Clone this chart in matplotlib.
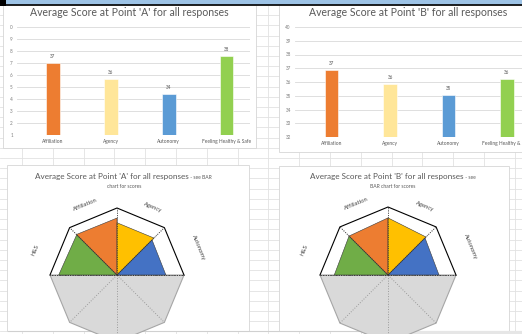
import numpy as np
import matplotlib
matplotlib.use("Agg")
import matplotlib.pyplot as plt
from matplotlib.patches import Rectangle, Polygon

plt.rcParams['font.family'] = ['Lato', 'DejaVu Sans']

# ---- data ----
categories = ['Affiliation', 'Agency', 'Autonomy', 'Feeling Healthy & Safe']
bar_colors = ['#ED7D31', '#FFE699', '#5B9BD5', '#92D050']

heights_a = [7.0, 5.65, 4.4, 7.6]
labels_a = ['37', '36', '34', '38']
yticks_a = [1, 2, 3, 4, 5, 6, 7, 8, 9, 10]
ytick_labels_a = ['1', '2', '3', '4', '5', '6', '7', '8', '9', '0']

heights_b = [36.88, 35.86, 35.07, 36.24]
labels_b = ['37', '36', '35', '36']
yticks_b = [32, 33, 34, 35, 36, 37, 38, 39, 40]

# radar: each segment spans two spokes (start angle, end angle) with a value at each
radar_names = ['H&S', 'Affiliation', 'Agency', 'Autonomy']
radar_colors = ['#70AD47', '#ED7D31', '#FFC000', '#4472C4']
radar_spokes = [(180, 135), (135, 90), (90, 45), (45, 0)]
radar_a = [(0.87, 0.85), (0.855, 0.85), (0.78, 0.78), (0.74, 0.73)]
radar_b = [(0.79, 0.81), (0.81, 0.84), (0.84, 0.79), (0.77, 0.75)]

W, H = 522, 334
fig = plt.figure(figsize=(W / 100, H / 100), dpi=100)


def px(x0, y0, x1, y1):
    return [x0 / W, 1 - y1 / H, (x1 - x0) / W, (y1 - y0) / H]


bg = fig.add_axes([0, 0, 1, 1])
bg.set_xlim(0, W)
bg.set_ylim(H, 0)
bg.axis('off')

# spreadsheet grid
for x in np.arange(22, W, 30.8):
    bg.plot([x, x], [5, H], color='#E2E2E2', lw=0.6, zorder=0)
for y in np.arange(5, H, 10.2):
    bg.plot([0, W], [y, y], color='#E2E2E2', lw=0.6, zorder=0)

# chart boxes
for (x0, y0, x1, y1) in [(3, 5, 256, 148), (279, 5, 525, 152),
                         (7, 165, 249, 331), (279, 166, 509, 331)]:
    bg.add_patch(Rectangle((x0, y0), x1 - x0, y1 - y0, facecolor='white',
                           edgecolor='#D6D6D6', lw=0.6, zorder=1))

# window frame
bg.add_patch(Rectangle((0, 0), W, 4.5, facecolor='#9DC3E6', edgecolor='none', zorder=5))
bg.plot([0, W], [4.8, 4.8], color='black', lw=1.2, zorder=6)
bg.add_patch(Rectangle((0, 0), 6, 6, facecolor='black', zorder=6))

grey_text = '#595959'


def bar_chart(rect, xlim, ylim, yticks, yticklabels, heights, labels, title, title_xy):
    ax = fig.add_axes(px(*rect))
    x = np.arange(len(categories))
    ax.bar(x, heights, width=0.23, color=bar_colors, edgecolor='white', lw=0.4, zorder=3)
    ax.set_xlim(*xlim)
    ax.set_ylim(*ylim)
    ax.set_yticks(yticks)
    ax.set_yticklabels(yticklabels, fontsize=3.3, color='#7F7F7F')
    ax.set_xticks(x)
    ax.set_xticklabels(categories, fontsize=3.5, color=grey_text)
    ax.tick_params(length=0, axis='y', pad=3)
    ax.tick_params(length=0, axis='x', pad=3)
    ax.grid(axis='y', color='#D9D9D9', lw=0.6)
    ax.set_axisbelow(True)
    for s in ax.spines.values():
        s.set_visible(False)
    ax.patch.set_alpha(0)
    for xi, h, lab in zip(x, heights, labels):
        ax.annotate(lab, (xi, h), xytext=(0, 3), textcoords='offset points',
                    ha='center', va='bottom', fontsize=3.3, color=grey_text)
    bg.text(title_xy[0], title_xy[1], title, ha='center', va='center',
            fontsize=7.6, color=grey_text, zorder=4)


bar_chart((17, 27, 250, 135), (-0.62, 3.40), (1, 10), yticks_a, ytick_labels_a,
          heights_a, labels_a, "Average Score at Point 'A' for all responses", (129, 13))
bar_chart((295, 27, 522, 137), (-0.63, 3.26), (32, 40), yticks_b,
          [str(t) for t in yticks_b], heights_b, labels_b,
          "Average Score at Point 'B' for all responses", (408, 13))


def radar(cx, cy, R, values, title1, title_small, title2, t_xy):
    x0, x1 = cx - 90, cx + 90
    y0, y1 = 185, H
    ax = fig.add_axes(px(x0, y0, x1, y1))
    ax.set_xlim((x0 - cx) / R, (x1 - cx) / R)
    ax.set_ylim(-(y1 - cy) / R, (cy - y0) / R)
    ax.axis('off')
    ang = np.deg2rad(np.arange(0, 360, 45))
    vx, vy = np.cos(ang), np.sin(ang)
    # lower half grey
    low = [(0, 0)] + [(vx[i], vy[i]) for i in [4, 5, 6, 7]] + [(1, 0)]
    ax.add_patch(Polygon(low, closed=True, facecolor='#D9D9D9', edgecolor='#A6A6A6', lw=0.8))
    # upper half outline
    up = [(vx[i], vy[i]) for i in [0, 1, 2, 3, 4]]
    ax.plot([p[0] for p in up], [p[1] for p in up], color='black', lw=0.8)
    # spokes
    for i in range(8):
        c = '#404040' if i in (0, 4) else '#9A9A9A'
        ax.plot([0, vx[i]], [0, vy[i]], color=c, lw=0.7, ls=':', zorder=1)
    # coloured segments
    for (a0, a1), (r0, r1), col in zip(radar_spokes, values, radar_colors):
        t0, t1 = np.deg2rad(a0), np.deg2rad(a1)
        pts = [(0, 0), (r0 * np.cos(t0), r0 * np.sin(t0)), (r1 * np.cos(t1), r1 * np.sin(t1))]
        ax.add_patch(Polygon(pts, closed=True, facecolor=col, edgecolor='#3A3A3A', lw=0.4, zorder=2))
    for i in [0, 1, 2, 3, 4]:
        ax.plot([0, vx[i]], [0, vy[i]], color='#303030', lw=0.6, ls=':', zorder=3)
    # labels
    for name, (a0, a1), lab_ang, rr in zip(radar_names, radar_spokes,
                                           [163, 114, 62, 19], [1.28, 1.15, 1.15, 1.28]):
        t = np.deg2rad(lab_ang)
        rot = (a0 + a1) / 2 - 90
        ax.text(rr * np.cos(t), rr * np.sin(t), name, rotation=rot,
                rotation_mode='anchor', ha='center', va='center', fontsize=4.2, color='#404040')
    tx, ty, tc = t_xy
    bg.text(tx, ty, title1, ha='right', va='baseline', fontsize=5.9, color=grey_text, zorder=4)
    bg.text(tx, ty, title_small, ha='left', va='baseline', fontsize=3.6, color=grey_text, zorder=4)
    bg.text(tc, ty + 9, title2, ha='center', va='baseline', fontsize=3.6,
            color=grey_text, zorder=4)


radar(117, 275, 67, radar_a, "Average Score at Point 'A' for all responses",
      " - see BAR", "chart for scores", (189, 179, 124))
radar(388, 275, 68, radar_b, "Average Score at Point 'B' for all responses",
      " - see", "BAR chart for scores", (464, 179, 393))

# bottom edge of the sheet view
bg.plot([8, W], [330.5, 330.5], color='#D0D0D0', lw=0.8, zorder=7)
bg.add_patch(Rectangle((365, 331), W - 365, 3, facecolor='#E6E6E6', edgecolor='none', zorder=7))

fig.savefig('out.png', dpi=100)
